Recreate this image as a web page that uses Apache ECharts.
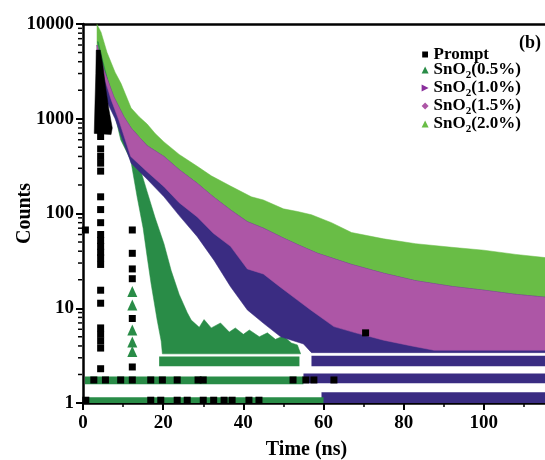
<!DOCTYPE html>
<html>
<head>
<meta charset="utf-8">
<script src="https://cdn.jsdelivr.net/npm/echarts@6/dist/echarts.min.js"></script>
<style>
  html, body { margin: 0; padding: 0; background: #fff; }
  #chart { width: 545px; height: 460px; }
</style>
</head>
<body>
<div id="chart"></div>
<script>
// Time-resolved photoluminescence decay: counts vs time (ns), log count axis.

const FONT = "'Liberation Serif', 'Times New Roman', serif";

// axis ticks
const xTicks = [0, 20, 40, 60, 80, 100, 120];
const yMajorTicks = [1, 10, 100, 1000, 10000];
const yMinorTicks = [2, 3, 4, 5, 6, 7, 8, 9,
                     20, 30, 40, 50, 60, 70, 80, 90,
                     200, 300, 400, 500, 600, 700, 800, 900,
                     2000, 3000, 4000, 5000, 6000, 7000, 8000, 9000];

// legend entries
const seriesNames = ['Prompt', 'SnO2(0.5%)', 'SnO2(1.0%)', 'SnO2(1.5%)', 'SnO2(2.0%)'];

// SnO2(2.0%): upper envelope of the decay band [time ns, counts]
const sn20Upper = [[3.5, 9900], [4.5, 8200], [6, 5000], [8, 3100], [9.5, 2350], [12, 1300],
  [14, 1050], [16, 880], [18, 700], [20.2, 570], [24, 420], [28.5, 315], [32, 250],
  [36.8, 195], [42, 150], [45, 139], [50, 112], [53.5, 105], [57, 97], [62, 80], [67, 63],
  [75, 54], [83, 48], [92, 44], [100, 41], [108, 37], [116, 34]];

// SnO2(1.5%): upper and lower envelopes
const sn15Upper = [[3.5, 6000], [5.2, 3300], [7.7, 1700], [10.2, 1050], [12, 800], [14, 640],
  [16, 520], [20.2, 400], [24, 290], [28.5, 208], [32.5, 150], [36.8, 109], [41, 82],
  [45, 70], [50, 55], [53.5, 47], [58.5, 38], [67, 29], [75, 23.4], [83, 19.5], [92, 17],
  [100, 15.5], [108, 14], [116, 13]];
const sn15Lower = [[3.5, 5000], [5, 3000], [7, 1600], [9, 950], [11.9, 400], [16, 276],
  [20.2, 192], [24, 130], [28.5, 92], [32.5, 62], [36.8, 45], [41, 26], [45, 23], [49, 17],
  [53.5, 12.2], [56.8, 9.6], [62.6, 6.4], [68, 5.5], [75, 4.6], [82, 4.0], [87.6, 3.6],
  [116, 3.6]];

// SnO2(1.0%): lower envelope (upper side lies under the 1.5% band)
const sn10Lower = [[3.5, 3000], [6, 1500], [8, 1000], [12, 340], [16, 230], [20.2, 150],
  [24, 95], [28.5, 57], [32.7, 32], [36.8, 16.9], [41, 9.6], [45.1, 6.9], [49.3, 5.0],
  [55, 4.2], [57, 3.4], [116, 3.4]];

// SnO2(0.5%): fast decay band and its low-count plateau
const sn05Upper = [[3.8, 6500], [5, 4000], [8, 1300], [11.9, 600], [13.6, 370], [16, 170],
  [18, 90], [20.2, 48], [22, 25], [24, 14], [26, 9], [27, 7.5], [29, 6.3], [30.2, 7.6],
  [32, 6.2], [34.3, 7], [36.5, 5.6], [38, 6.2], [40, 5.3], [41.5, 5.9], [44, 5.0],
  [46, 5.5], [48, 4.7], [50, 5.1], [52, 4.3], [53.5, 4.1], [54.3, 3.3]];
const sn05Lower = [[3.6, 6500], [6, 2500], [9.4, 600], [11.9, 367], [13.5, 150], [15, 70],
  [16, 35], [17, 18], [18.5, 7.5], [19.5, 4.5], [19.8, 3.3], [54.3, 3.3]];

// quantised low-count levels [start ns, end ns, low counts, high counts]
const sn05Levels = [[19, 54, 2.45, 3.1], [0.5, 55, 1.58, 1.9], [0.5, 60, 1.0, 1.15]];
const sn10Levels = [[57, 116, 2.45, 3.15], [55, 116, 1.62, 2.05], [59.5, 116, 1.0, 1.3]];

// SnO2(0.5%) isolated points
const sn05Points = [[12.3, 15], [12.3, 10.8], [12.3, 5.9], [12.3, 4.4], [12.3, 3.5]];

// Prompt (instrument response): dense peak outline and isolated points
const promptPeak = [[3.3, 5300], [4.3, 5300], [4.9, 3800], [5.6, 2200], [6.4, 1300],
  [7.3, 800], [7.0, 680], [2.8, 700], [3.0, 1500], [3.2, 3000]];
const promptPoints = [
  [4.4, 650], [4.4, 480], [4.4, 400], [4.4, 340], [4.4, 280], [4.4, 150], [4.4, 110],
  [4.4, 80], [4.4, 60], [4.4, 52], [4.4, 45], [4.4, 39], [4.4, 34], [4.4, 29],
  [4.4, 15.5], [4.4, 11.3], [4.4, 6.2], [4.4, 5.3], [4.4, 4.5], [4.4, 3.8], [4.4, 2.3],
  [0.6, 67], [12.3, 67], [12.3, 38], [12.3, 26], [12.3, 20.5], [12.3, 7.8], [12.3, 2.4],
  [2.7, 1.75], [5.6, 1.75], [9.4, 1.75], [12.3, 1.75], [16.9, 1.75], [19.8, 1.75],
  [23.5, 1.75], [28.7, 1.75], [30, 1.75], [52.4, 1.75], [55.6, 1.75], [57.6, 1.75],
  [62.6, 1.75],
  [0.7, 1.07], [16.9, 1.07], [19.4, 1.07], [23.5, 1.07], [26, 1.07], [30, 1.07],
  [32.6, 1.07], [35.2, 1.07], [37.2, 1.07], [41.4, 1.07], [43.9, 1.07], [70.5, 5.5]];

const colors = {
  prompt: '#000000',
  sn05: '#298c47',
  sn10: '#3a2c82',
  sn10Icon: '#8a2e9c',
  sn15: '#ad56a6',
  sn20: '#69bd46'
};

// filled band between two envelopes, placed through the axes
function bandSeries(name, upper, lower, color, z) {
  return {
    name: name,
    type: 'custom',
    z: z,
    clip: true,
    data: upper,
    encode: { x: 0, y: 1 },
    renderItem: function (params, api) {
      if (params.dataIndex !== 0) return null;
      const pts = upper.map(p => api.coord(p))
        .concat(lower.slice().reverse().map(p => api.coord(p)));
      return {
        type: 'polygon',
        shape: { points: pts },
        style: { fill: color, stroke: color, lineWidth: 0.5 }
      };
    }
  };
}

// horizontal count-level strips
function levelSeries(name, levels, color, z) {
  return {
    name: name,
    type: 'custom',
    z: z,
    clip: true,
    data: levels,
    encode: { x: [0, 1], y: [2, 3] },
    renderItem: function (params, api) {
      const a = api.coord([api.value(0), api.value(3)]);
      const b = api.coord([api.value(1), api.value(2)]);
      return {
        type: 'rect',
        shape: { x: a[0], y: a[1], width: b[0] - a[0], height: b[1] - a[1] },
        style: { fill: color }
      };
    }
  };
}

const chart = echarts.init(document.getElementById('chart'), null, { renderer: 'canvas' });

const option = {
  animation: false,
  backgroundColor: '#ffffff',
  grid: { left: 83, top: 24, right: -19, bottom: 57, containLabel: false, outerBoundsMode: 'none' },
  legend: {
    orient: 'vertical',
    left: 416,
    top: 41,
    itemWidth: 7,
    itemHeight: 7,
    itemGap: -1.5,
    selectedMode: false,
    data: [
      { name: seriesNames[0], icon: 'rect', itemStyle: { color: colors.prompt, borderColor: '#fff', borderWidth: 1.2 } },
      { name: seriesNames[1], icon: 'triangle', itemStyle: { color: colors.sn05 } },
      { name: seriesNames[2], icon: 'path://M0,0L10,5L0,10Z', itemStyle: { color: colors.sn10Icon } },
      { name: seriesNames[3], icon: 'diamond', itemStyle: { color: colors.sn15 } },
      { name: seriesNames[4], icon: 'triangle', itemStyle: { color: colors.sn20 } }
    ],
    formatter: function (name) {
      if (name.indexOf('SnO2') === 0) {
        return '{a|SnO}{s|2}{a|' + name.slice(4) + '}';
      }
      return '{a|' + name + '}';
    },
    textStyle: {
      color: '#000',
      fontFamily: FONT,
      fontWeight: 'bold',
      fontSize: 17,
      rich: {
        a: { fontFamily: FONT, fontWeight: 'bold', fontSize: 17, lineHeight: 22, color: '#000' },
        s: { fontFamily: FONT, fontWeight: 'bold', fontSize: 11, lineHeight: 11, verticalAlign: 'bottom', color: '#000' }
      }
    }
  },
  xAxis: [{
    type: 'value',
    min: xTicks[0],
    max: xTicks[xTicks.length - 1],
    interval: 20,
    name: 'Time (ns)',
    nameLocation: 'middle',
    nameGap: 37,
    nameMoveOverlap: false,
    nameTextStyle: { fontFamily: FONT, fontWeight: 'bold', fontSize: 20, color: '#000', padding: [0, 34, 0, 0] },
    axisLine: { show: true, lineStyle: { color: '#000', width: 2.5 } },
    axisTick: { show: true, length: 7, lineStyle: { color: '#000', width: 2 } },
    minorTick: { show: true, splitNumber: 2, length: 4, lineStyle: { color: '#000', width: 1.5 } },
    splitLine: { show: false },
    axisLabel: { margin: 11, fontFamily: FONT, fontWeight: 'bold', fontSize: 19, color: '#000' }
  }, {
    type: 'value',
    position: 'top',
    min: xTicks[0],
    max: xTicks[xTicks.length - 1],
    interval: 20,
    axisLine: { show: true, lineStyle: { color: '#000', width: 2.5 } },
    axisTick: { show: false },
    axisLabel: { show: false },
    splitLine: { show: false }
  }],
  yAxis: {
    type: 'log',
    logBase: 10,
    min: yMajorTicks[0],
    max: yMajorTicks[yMajorTicks.length - 1],
    name: 'Counts',
    nameLocation: 'middle',
    nameGap: 58,
    nameMoveOverlap: false,
    nameTextStyle: { fontFamily: FONT, fontWeight: 'bold', fontSize: 20, color: '#000', verticalAlign: 'middle' },
    axisLine: { show: true, lineStyle: { color: '#000', width: 2.5 } },
    axisTick: { show: true, length: 7, lineStyle: { color: '#000', width: 2 } },
    splitLine: { show: false },
    axisLabel: {
      margin: 9,
      fontFamily: FONT, fontWeight: 'bold', fontSize: 19, color: '#000',
      formatter: v => String(Math.round(v))
    }
  },
  graphic: [{
    type: 'text',
    left: 519,
    top: 34,
    style: { text: '(b)', font: 'bold 18px ' + FONT, fill: '#000' }
  }],
  series: [
    bandSeries(seriesNames[4], sn20Upper, sn15Lower, colors.sn20, 1),
    bandSeries(seriesNames[1], sn05Upper, sn05Lower, colors.sn05, 2),
    bandSeries(seriesNames[2], sn15Upper, sn10Lower, colors.sn10, 3),
    bandSeries(seriesNames[3], sn15Upper, sn15Lower, colors.sn15, 4),
    levelSeries(seriesNames[2], sn10Levels, colors.sn10, 5),
    levelSeries(seriesNames[1], sn05Levels, colors.sn05, 5),
    {
      name: seriesNames[1],
      type: 'scatter',
      z: 6,
      symbol: 'triangle',
      symbolSize: [10, 11],
      itemStyle: { color: colors.sn05, opacity: 1 },
      data: sn05Points
    },
    bandSeries(seriesNames[0], promptPeak, [], colors.prompt, 7),
    {
      name: seriesNames[0],
      type: 'scatter',
      z: 8,
      symbol: 'rect',
      symbolSize: 7,
      itemStyle: { color: colors.prompt, opacity: 1 },
      data: promptPoints
    },
    {
      // logarithmic minor ticks on the count axis
      type: 'custom',
      z: 10,
      clip: false,
      silent: true,
      data: yMinorTicks.map(v => [0, v]),
      encode: { x: 0, y: 1 },
      renderItem: function (params, api) {
        const p = api.coord([api.value(0), api.value(1)]);
        return {
          type: 'line',
          shape: { x1: p[0] - 5, y1: p[1], x2: p[0] - 1, y2: p[1] },
          style: { stroke: '#000', lineWidth: 1.5 }
        };
      }
    }
  ]
};

chart.setOption(option);
</script>
</body>
</html>
